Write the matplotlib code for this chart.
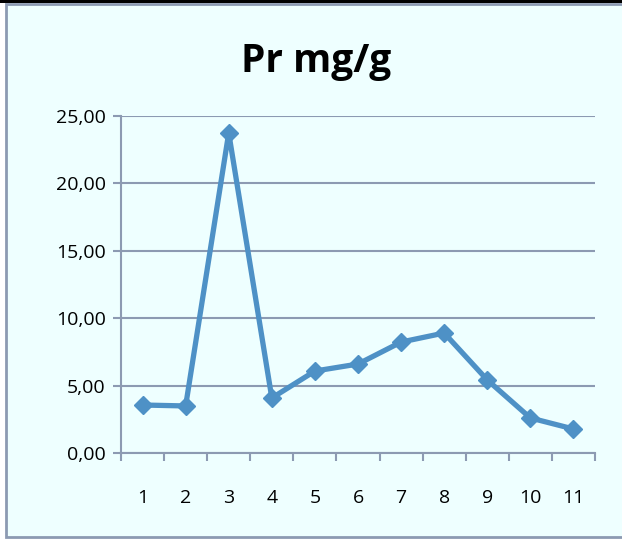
import matplotlib.pyplot as plt
from matplotlib.patches import Rectangle
from matplotlib.ticker import FuncFormatter

# Pr content per sample
samples = ['1', '2', '3', '4', '5', '6', '7', '8', '9', '10', '11']
pr_mg_g = [3.56, 3.49, 23.74, 4.08, 6.08, 6.60, 8.23, 8.90, 5.42, 2.60, 1.78]
y_ticks = [0, 5, 10, 15, 20, 25]

bg = '#EEFFFF'
grid_col = '#8C9AB2'
line_col = '#4E91C6'

plt.rcParams['font.family'] = ['Open Sans', 'DejaVu Sans']

fig = plt.figure(figsize=(6.22, 5.40), dpi=100)
fig.patch.set_facecolor('white')

# chart frame
fig.patches.append(Rectangle((6 / 622, 3 / 540), 620 / 622, 533 / 540,
                             transform=fig.transFigure, facecolor=bg,
                             edgecolor=grid_col, linewidth=2.0, zorder=0))
fig.patches.append(Rectangle((0, 537 / 540), 1, 3 / 540, transform=fig.transFigure,
                             facecolor='black', edgecolor='none', zorder=1))

ax = fig.add_axes([121 / 622, 1 - 453 / 540, 474 / 622, 337 / 540])
ax.set_facecolor('none')
ax.set_zorder(5)

x = list(range(len(samples)))
ax.plot(x, pr_mg_g, color=line_col, linewidth=3.8, marker='D', markersize=9.5,
        markerfacecolor=line_col, markeredgecolor=line_col, zorder=3,
        solid_joinstyle='miter')

ax.set_xlim(-0.5, len(samples) - 0.5)
ax.set_ylim(0, 25)
ax.set_yticks(y_ticks)
ax.yaxis.set_major_formatter(FuncFormatter(lambda v, p: f'{v:.2f}'.replace('.', ',')))
ax.set_xticks(x)
ax.set_xticklabels(samples)
ax.set_xticks([i - 0.5 for i in range(len(samples) + 1)], minor=True)

ax.grid(axis='y', color=grid_col, linewidth=1.5)
ax.set_axisbelow(True)
for s in ['top', 'right']:
    ax.spines[s].set_visible(False)
for s in ['left', 'bottom']:
    ax.spines[s].set_color(grid_col)
    ax.spines[s].set_linewidth(1.5)

ax.tick_params(axis='y', direction='out', length=6, width=1.5, color=grid_col,
               labelsize=14, pad=5)
ax.tick_params(axis='x', which='major', length=0, labelsize=14, pad=26)
ax.tick_params(axis='x', which='minor', direction='out', length=6, width=1.5,
               color=grid_col)

fig.text(316 / 622, 1 - 72 / 540, 'Pr mg/g', ha='center', va='baseline',
         fontsize=28, fontweight='bold', zorder=6)

fig.savefig('out.png', dpi=100, facecolor=fig.get_facecolor())
